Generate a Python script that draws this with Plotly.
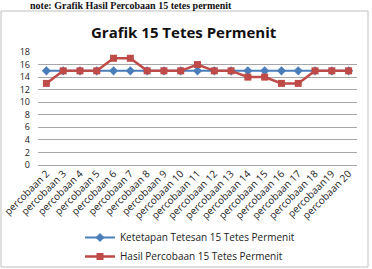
import plotly.graph_objects as go

categories = ["percobaan 2", "percobaan 3", "percobaan 4", "percobaan 5", "percobaan 6",
              "percobaan 7", "percobaan 8", "percobaan 9", "percobaan 10", "percobaan 11",
              "percobaan 12", "percobaan 13", "percobaan 14", "percobaan 15", "percobaan 16",
              "percobaan 17", "percobaan 18", "percobaan19", "percobaan 20"]
ketetapan = [15] * 19
hasil = [13, 15, 15, 15, 17, 17, 15, 15, 15, 16, 15, 15, 14, 14, 13, 13, 15, 15, 15]

W, H = 372, 269
L, R, T, B = 38, 15, 52, 104
pw, ph = W - L - R, H - T - B

def px(x):
    return (x - L) / pw

def py(y):
    return (H - B - y) / ph

fig = go.Figure()
fig.add_trace(go.Scatter(
    x=categories, y=ketetapan, mode="lines+markers",
    name="Ketetapan Tetesan 15 Tetes Permenit",
    line=dict(color="#4A7EBB", width=2),
    marker=dict(symbol="diamond", size=7, color="#4A7EBB"),
))
fig.add_trace(go.Scatter(
    x=categories, y=hasil, mode="lines+markers",
    name="Hasil Percobaan 15 Tetes Permenit",
    line=dict(color="#BE4B48", width=2.5),
    marker=dict(symbol="square", size=7, color="#BE4B48"),
))

font = "Open Sans, Liberation Sans, sans-serif"
fig.update_layout(
    width=W, height=H,
    margin=dict(l=L, r=R, t=T, b=B, autoexpand=False),
    paper_bgcolor="white", plot_bgcolor="white",
    font=dict(family=font, size=9, color="#222222"),
    showlegend=True,
    legend=dict(x=px(80), y=py(223), xanchor="left", yanchor="top",
                font=dict(size=10, family=font, color="#222222"),
                bgcolor="rgba(0,0,0,0)", tracegroupgap=2,
                itemwidth=30),
    xaxis=dict(type="category", range=[-0.5, 18.5], tickangle=-45, automargin=False,
               showgrid=False, showline=False, ticks="", zeroline=False,
               tickfont=dict(size=10, family=font, color="#222222")),
    yaxis=dict(range=[0, 18], dtick=2, showgrid=True, gridcolor="#A6A6A6", automargin=False,
               gridwidth=1, zeroline=True, zerolinecolor="#A6A6A6", zerolinewidth=1,
               showline=False, ticks="", ticklabelstandoff=7,
               tickfont=dict(size=9, family=font, color="#222222")),
    shapes=[dict(type="rect", xref="paper", yref="paper",
                 x0=px(1), x1=px(368), y0=py(267), y1=py(11),
                 line=dict(color="#BFBFBF", width=1), fillcolor="rgba(0,0,0,0)", layer="below")],
    annotations=[
        dict(text="<b>Grafik 15 Tetes Permenit</b>", xref="paper", yref="paper",
             x=px(184), y=py(32), xanchor="center", yanchor="middle", showarrow=False,
             font=dict(size=15, family=font, color="#111111")),
        dict(text="<b>note: Grafik Hasil Percobaan 15 tetes permenit</b>", xref="paper", yref="paper",
             x=px(28), y=py(5), xanchor="left", yanchor="middle", showarrow=False,
             font=dict(size=10, family="Liberation Serif, serif", color="#111111")),
    ],
)
fig.write_html("out.html")
